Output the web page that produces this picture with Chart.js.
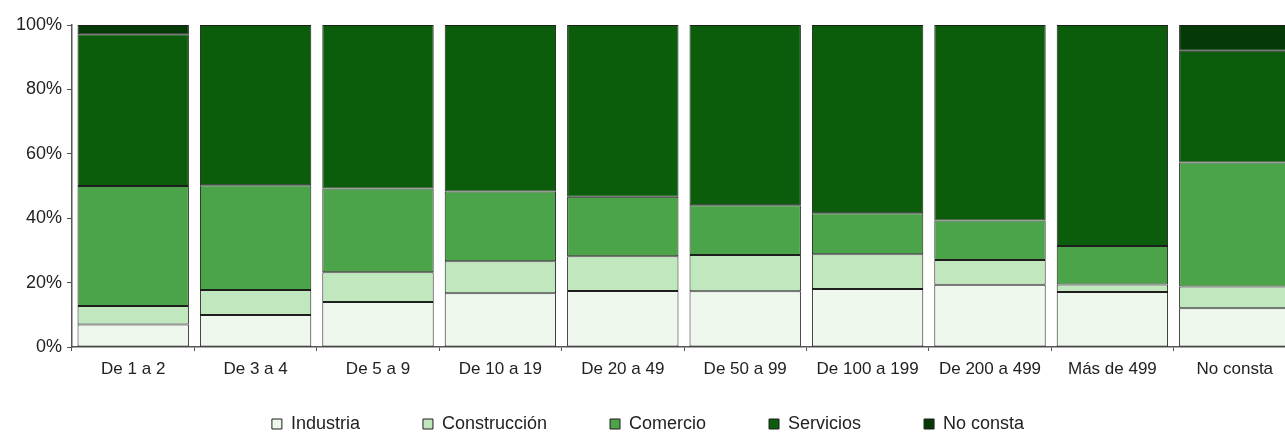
<!DOCTYPE html>
<html>
<head>
<meta charset="utf-8">
<script src="https://cdn.jsdelivr.net/npm/chart.js@4/dist/chart.umd.min.js"></script>
<style>
  body { margin: 0; overflow: hidden; background: #fff; }
</style>
</head>
<body>
<canvas id="bar_chart" width="1296" height="433"></canvas>
<script>
const ctx = document.querySelector('#bar_chart')

const tamanos = ["De 1 a 2", "De 3 a 4", "De 5 a 9", "De 10 a 19", "De 20 a 49", "De 50 a 99", "De 100 a 199", "De 200 a 499", "Más de 499", "No consta"];

// share of each sector (%)
const industria    = [7.0, 9.9, 14.0, 16.7, 17.4, 17.3, 18.0, 19.3, 17.1, 12.0];
const construccion = [5.7, 7.8, 9.2, 9.9, 10.8, 11.3, 10.8, 7.7, 2.3, 6.8];
const comercio     = [37.3, 32.5, 26.0, 21.7, 18.5, 15.4, 12.7, 12.3, 12.0, 38.5];
const servicios    = [47.1, 49.8, 50.8, 51.7, 53.3, 56.0, 58.5, 60.7, 68.6, 34.7];
const noConsta     = [2.9, 0, 0, 0, 0, 0, 0, 0, 0, 8.0];

const yTicks = [0, 20, 40, 60, 80, 100];

const edge = '#1e1e1e'
const family = "'Liberation Sans', Arial, sans-serif"
const xFont = { family: family, size: 17 }
const yFont = { family: family, size: 18 }
const legendFont = { family: family, size: 18 }

const data = {
    labels: tamanos,
    datasets: [
        { label: 'Industria', data: industria, backgroundColor: '#eff8ed' },
        { label: 'Construcción', data: construccion, backgroundColor: '#c0e7bd' },
        { label: 'Comercio', data: comercio, backgroundColor: '#4ca44a' },
        { label: 'Servicios', data: servicios, backgroundColor: '#0b5d0b' },
        { label: 'No consta', data: noConsta, backgroundColor: '#053905' }
    ].map(ds => Object.assign(ds, {
        borderColor: edge,
        borderWidth: 1,
        borderSkipped: false,
        barPercentage: 0.91,
        categoryPercentage: 1
    }))
};

const options = {
    responsive: false,
    animation: false,
    layout: {
        padding: { top: 25, bottom: -10, left: 0, right: 0 }
    },
    plugins: {
        legend: {
            position: 'bottom',
            labels: {
                font: legendFont,
                color: '#222',
                boxWidth: 10,
                boxHeight: 10,
                padding: 8,
                // wide gaps between entries, like the original
                generateLabels: chart => {
                    const items = Chart.defaults.plugins.legend.labels.generateLabels(chart)
                    items.forEach((it, i) => {
                        if (i < items.length - 1) it.text = it.text + ' '.repeat(11)
                    })
                    return items
                }
            }
        },
        tooltip: { enabled: false }
    },
    scales: {
        x: {
            stacked: true,
            grid: {
                drawOnChartArea: false,
                tickLength: 4,
                color: '#555'
            },
            border: { color: '#555', width: 1.5 },
            ticks: { font: xFont, color: '#222', padding: 8, maxRotation: 0 },
            afterFit: s => { s.height = 60 }
        },
        y: {
            stacked: true,
            min: 0,
            max: 100,
            grid: {
                drawOnChartArea: false,
                tickLength: 5,
                color: '#555'
            },
            border: { color: '#555', width: 1.5 },
            afterBuildTicks: s => { s.ticks = yTicks.map(v => ({ value: v })) },
            ticks: {
                font: yFont,
                color: '#222',
                padding: 5,
                callback: v => v + '%'
            },
            afterFit: s => { s.width = 72 }
        }
    }
}

new Chart(ctx, {
    type: 'bar',
    data: data,
    options: options
})
</script>
</body>
</html>
